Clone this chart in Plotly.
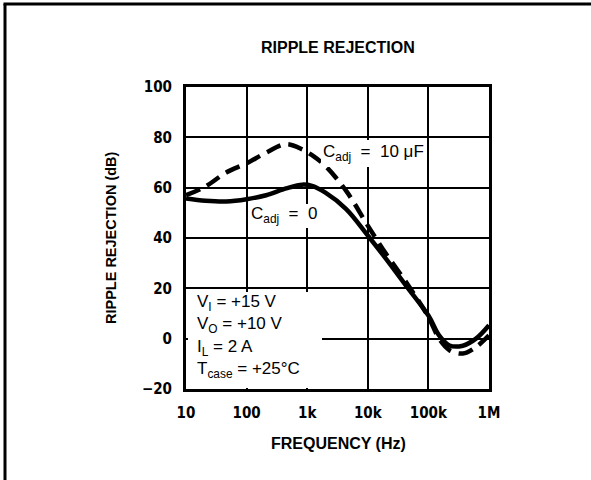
import plotly.graph_objects as go

# ---- data ----
freq_0 = [10, 21, 46, 100, 210, 450, 830, 1200, 2000, 4400, 10000, 20000, 43000,
          100000, 150000, 223000, 370000, 610000, 1000000]
rr_0 = [55.7, 54.8, 54.5, 55.4, 57.0, 59.7, 61.2, 60.7, 58.0, 51.5, 41.0, 31.7, 21.0,
        9.2, 1.3, -2.7, -2.8, 0.0, 5.3]

freq_10 = [10, 21, 46, 100, 210, 450, 830, 1200, 2000, 4400, 10000, 20000, 43000,
           100000, 150000, 223000, 370000, 610000, 1000000]
rr_10 = [57.0, 60.5, 66.0, 69.7, 73.9, 77.3, 75.2, 72.9, 68.6, 58.7, 44.9, 33.7, 22.4,
         8.6, 0.0, -4.6, -5.9, -3.3, 1.3]

x_tickvals = [10, 100, 1000, 10000, 100000, 1000000]
x_ticktext = ["10", "100", "1k", "10k", "100k", "1M"]
y_tickvals = [-20, 0, 20, 40, 60, 80, 100]
y_ticktext = ["\u221220", "0", "20", "40", "60", "80", "100"]

# ---- layout geometry (pixels) ----
W, H = 591, 480
L, R, T, B = 186, 489, 87, 389


def px(x):
    return (x - L) / (R - L)


def py(y):
    return (B - y) / (B - T)


TICKFONT = dict(family="DejaVu Sans Condensed, Liberation Sans", size=15, color="black")
BOLD = "Liberation Sans, Arial, Helvetica"
TEXT = "Liberation Sans, Arial, Helvetica"

fig = go.Figure()
fig.add_trace(go.Scatter(x=freq_10, y=rr_10, mode="lines", line_shape="spline",
                         line=dict(color="black", width=4.5, dash="15px,8px"),
                         showlegend=False, hoverinfo="skip"))
fig.add_trace(go.Scatter(x=freq_0, y=rr_0, mode="lines", line_shape="spline",
                         line=dict(color="black", width=4.5),
                         showlegend=False, hoverinfo="skip"))

shapes = [
    # outer frame: top and left only
    dict(type="line", xref="paper", yref="paper", x0=px(3.5), x1=px(W),
         y0=py(4), y1=py(4), line=dict(color="black", width=3)),
    dict(type="line", xref="paper", yref="paper", x0=px(5), x1=px(5),
         y0=py(4), y1=py(H), line=dict(color="black", width=3)),
]

annotations = []
# white masks hiding gridlines behind the labels (x0, y0, x1, y1 in px)
for (x0, y0, x1, y1) in [(188, 291.5, 322, 387.5), (321, 140, 425, 167), (250, 204, 329, 228)]:
    annotations.append(dict(text=" ", x=px(x0), y=py(y0), xanchor="left", yanchor="top",
                            width=x1 - x0, height=y1 - y0, bgcolor="white",
                            borderpad=0, borderwidth=0, font=dict(size=4)))

annotations += [
    dict(text="<b>RIPPLE REJECTION</b>", x=px(338), y=py(48), font=dict(family=BOLD, size=16)),
    dict(text="<b>FREQUENCY (Hz)</b>", x=px(338), y=py(443), font=dict(family=BOLD, size=16)),
    dict(text="<b>RIPPLE REJECTION (dB)</b>", x=px(111), y=py(238), textangle=-90,
         font=dict(family=BOLD, size=14.5)),
    dict(text="C<sub>adj</sub>  =  10 \u03bcF", x=px(321), y=py(153), xanchor="left",
         font=dict(family=TEXT, size=17)),
    dict(text="C<sub>adj</sub>  =  0", x=px(249), y=py(215), xanchor="left",
         font=dict(family=TEXT, size=17)),
    dict(text="V<sub>I</sub> = +15 V", x=px(195), y=py(303), xanchor="left",
         font=dict(family=TEXT, size=17)),
    dict(text="V<sub>O</sub> = +10 V", x=px(195), y=py(325), xanchor="left",
         font=dict(family=TEXT, size=17)),
    dict(text="I<sub>L</sub> = 2 A", x=px(195), y=py(348), xanchor="left",
         font=dict(family=TEXT, size=17)),
    dict(text="T<sub>case</sub> = +25\u00b0C", x=px(195), y=py(370), xanchor="left",
         font=dict(family=TEXT, size=17)),
]
for a in annotations:
    a.setdefault("xref", "paper")
    a.setdefault("yref", "paper")
    a.setdefault("showarrow", False)
    a.setdefault("xanchor", "center")
    a.setdefault("yanchor", "middle")
    a["font"]["color"] = "black"

fig.update_layout(
    width=W, height=H,
    margin=dict(l=L, r=W - R, t=T, b=H - B, pad=0),
    paper_bgcolor="white", plot_bgcolor="white",
    shapes=shapes, annotations=annotations,
    xaxis=dict(type="log", range=[1, 6], tickvals=x_tickvals,
               ticktext=["<b>%s</b>" % t for t in x_ticktext],
               showgrid=True, gridcolor="black", gridwidth=1.5,
               showline=True, linecolor="black", linewidth=3, mirror=True,
               ticks="inside", ticklen=5, tickwidth=1.5, tickcolor="black",
               tickfont=TICKFONT, ticklabelstandoff=8, zeroline=False, fixedrange=True),
    yaxis=dict(range=[-20, 100], tickvals=y_tickvals,
               ticktext=["<b>%s</b>" % t for t in y_ticktext],
               showgrid=True, gridcolor="black", gridwidth=1.5,
               showline=True, linecolor="black", linewidth=3, mirror=True,
               ticks="inside", ticklen=5, tickwidth=1.5, tickcolor="black",
               tickfont=TICKFONT, ticklabelstandoff=8, zeroline=False, fixedrange=True),
)

fig.write_html("out.html", config=dict(displayModeBar=False),
               post_script="document.body.style.margin='0';document.body.style.padding='0';"
                           "document.body.style.overflow='hidden';"
                           "document.documentElement.style.overflow='hidden';")
